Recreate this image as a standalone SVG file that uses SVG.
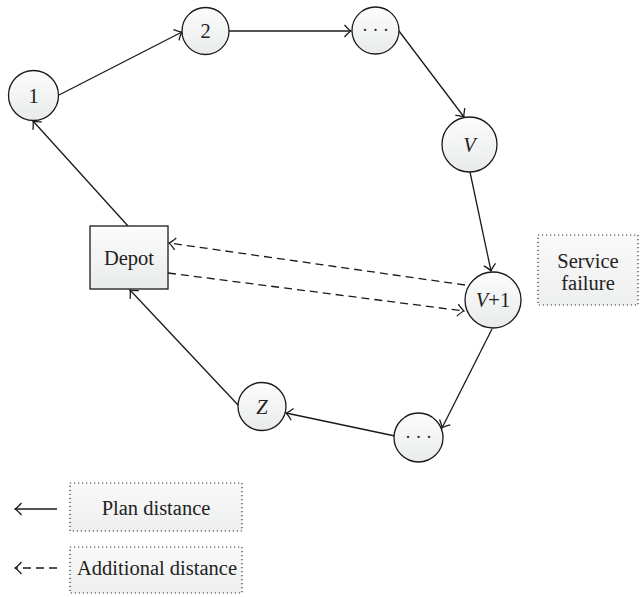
<svg xmlns="http://www.w3.org/2000/svg" width="640" height="597" viewBox="0 0 640 597">
<style>
.node{stroke:#1a1a1a;stroke-width:1.3;fill:url(#g)}
.box{stroke:#333;stroke-width:1.2;stroke-dasharray:1.2 2.8;fill:url(#g2)}
.t{font-family:"Liberation Serif",serif;font-size:20.5px;fill:#222;text-anchor:middle}
.it{font-style:italic}
.dots{font-family:"Liberation Serif",serif;font-size:18px;fill:#222;text-anchor:middle}
.e{stroke:#1a1a1a;stroke-width:1.3;fill:none;marker-end:url(#ah)}
.d{stroke:#1a1a1a;stroke-width:1.3;fill:none;stroke-dasharray:8 5;marker-end:url(#ah)}
</style>
<defs>
<linearGradient id="g" x1="0" y1="0" x2="0" y2="1">
<stop offset="0" stop-color="#fcfcfc"/><stop offset="1" stop-color="#e9ebeb"/>
</linearGradient>
<linearGradient id="g2" x1="0" y1="0" x2="0" y2="1">
<stop offset="0" stop-color="#f9f9f9"/><stop offset="1" stop-color="#eeefef"/>
</linearGradient>
<marker id="ah" markerUnits="userSpaceOnUse" markerWidth="14" markerHeight="16" viewBox="-10 -8 12 16" refX="0" refY="0" orient="auto">
<path d="M-6.5,-6 Q-2,-1 0,0 Q-2,1 -6.5,6" fill="none" stroke="#1a1a1a" stroke-width="1.3"/>
</marker>
</defs>
<g id="connectors">
<line class="e" x1="59" y1="95" x2="182" y2="32"/>
<line class="e" x1="229" y1="31" x2="351" y2="31"/>
<line class="e" x1="399" y1="31" x2="464" y2="117"/>
<line class="e" x1="470" y1="172" x2="491" y2="271"/>
<line class="e" x1="492" y1="329" x2="442" y2="428"/>
<line class="e" x1="395" y1="436" x2="286" y2="413"/>
<line class="e" x1="238" y1="405" x2="130" y2="290"/>
<line class="e" x1="128" y1="226" x2="33" y2="121"/>
<line class="d" x1="465" y1="285" x2="169" y2="243"/>
<line class="d" x1="168" y1="273" x2="464" y2="311"/>
</g>
<g id="n1"><circle class="node" cx="33.5" cy="95.5" r="25"/><text class="t" x="33.5" y="102.5">1</text></g>
<g id="n2"><circle class="node" cx="205.5" cy="31" r="23.5"/><text class="t" x="205.5" y="38">2</text></g>
<g id="n3"><circle class="node" cx="375.5" cy="30.5" r="23.5"/><text class="dots" x="375.5" y="36">· · ·</text></g>
<g id="nV"><circle class="node" cx="469.5" cy="144.5" r="27.5"/><text class="t it" x="469.5" y="151.5">V</text></g>
<g id="nV1"><circle class="node" cx="493" cy="300" r="28"/><text class="t" x="493" y="307"><tspan class="it">V</tspan>+1</text></g>
<g id="n4"><circle class="node" cx="418.5" cy="437.5" r="24.5"/><text class="dots" x="418.5" y="443">· · ·</text></g>
<g id="nZ"><circle class="node" cx="262" cy="406.5" r="24"/><text class="t it" x="262" y="413.5">Z</text></g>
<g id="depot"><rect class="node" x="90" y="226" width="78" height="63"/><text class="t" x="129" y="264.5">Depot</text></g>
<g id="service"><rect class="box" x="538" y="235" width="100" height="70"/><text class="t" x="588" y="268">Service</text><text class="t" x="588" y="290">failure</text></g>
<g id="legend">
<line class="e" x1="57" y1="509" x2="15" y2="509"/>
<rect class="box" x="70" y="483" width="172" height="48"/>
<text class="t" x="156" y="515">Plan distance</text>
<line class="d" x1="57" y1="568" x2="15" y2="568"/>
<rect class="box" x="70" y="547" width="172" height="46"/>
<text class="t" x="157" y="575">Additional distance</text>
</g>
</svg>
